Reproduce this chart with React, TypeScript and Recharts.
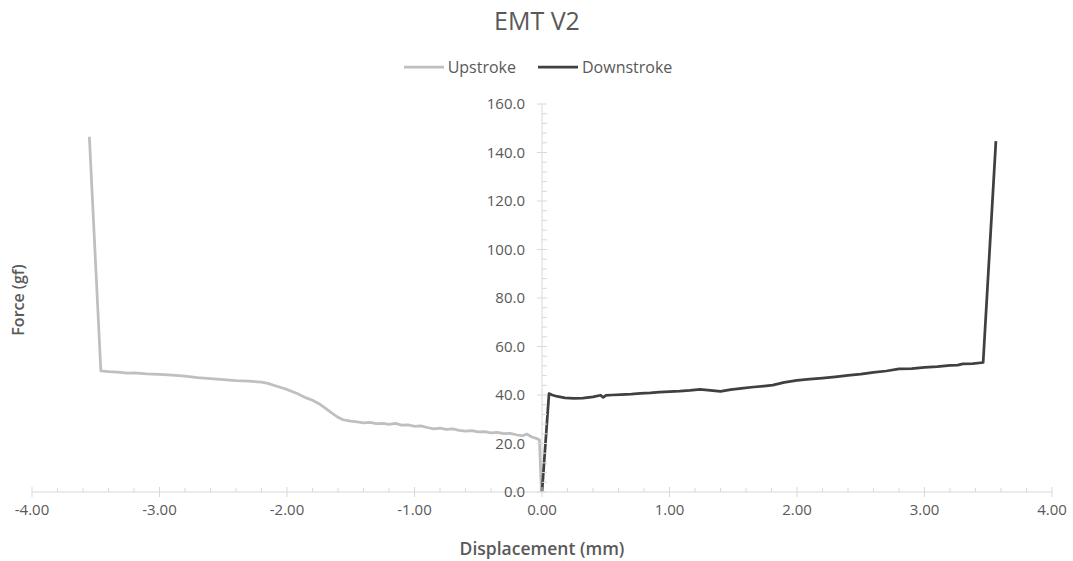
import React, { useLayoutEffect } from 'react';
import { LineChart, Line, XAxis, YAxis, Legend, ReferenceLine } from 'recharts';

// ---------- data ----------
const upX = [
  -3.55, -3.46, -3.4, -3.33, -3.25, -3.2, -3.1, -3.0, -2.9, -2.8, -2.7, -2.6, -2.5, -2.4, -2.3, -2.2,
  -2.15, -2.08, -2.0, -1.92, -1.85, -1.8, -1.75, -1.7, -1.65, -1.6, -1.56, -1.5, -1.45, -1.4, -1.35,
  -1.3, -1.25, -1.2, -1.15, -1.1, -1.05, -1.0, -0.95, -0.9, -0.85, -0.8, -0.75, -0.7, -0.65, -0.6,
  -0.55, -0.5, -0.45, -0.4, -0.35, -0.3, -0.25, -0.2, -0.15, -0.12, -0.08, -0.04, -0.02, -0.005,
];
const upY = [
  146.5, 49.9, 49.6, 49.4, 49.0, 49.1, 48.7, 48.5, 48.2, 47.8, 47.2, 46.8, 46.3, 45.9, 45.7, 45.3,
  44.8, 43.6, 42.3, 40.6, 38.8, 37.8, 36.4, 34.6, 32.6, 30.8, 29.8, 29.2, 28.9, 28.5, 28.7,
  28.2, 28.3, 27.9, 28.3, 27.6, 27.7, 27.1, 27.3, 26.6, 26.0, 26.3, 25.8, 26.0, 25.4, 25.1,
  25.3, 24.8, 24.9, 24.4, 24.6, 24.1, 24.2, 23.6, 23.2, 23.9, 22.7, 22.0, 21.5, 0.4,
];

const downX = [
  0.0, 0.055, 0.08, 0.12, 0.18, 0.25, 0.32, 0.4, 0.46, 0.48, 0.5, 0.55, 0.62, 0.7, 0.77, 0.85, 0.92,
  1.0, 1.08, 1.16, 1.24, 1.32, 1.4, 1.48, 1.58, 1.66, 1.74, 1.81, 1.9, 2.0, 2.1, 2.2, 2.3, 2.4, 2.5,
  2.6, 2.7, 2.8, 2.9, 3.0, 3.1, 3.2, 3.26, 3.3, 3.38, 3.46, 3.56,
];
const downY = [
  0.0, 40.6, 40.0, 39.4, 38.8, 38.6, 38.7, 39.2, 39.9, 39.0, 39.8, 40.0, 40.2, 40.4, 40.7, 40.9, 41.2,
  41.4, 41.6, 41.9, 42.3, 41.9, 41.5, 42.2, 42.8, 43.3, 43.7, 44.1, 45.2, 46.0, 46.5, 47.0, 47.5, 48.1, 48.6,
  49.3, 49.9, 50.8, 50.9, 51.4, 51.7, 52.2, 52.3, 52.8, 52.9, 53.4, 144.7,
];

const xMajorTicks = [-4, -3, -2, -1, 0, 1, 2, 3, 4];
const yMajorTicks = [0, 20, 40, 60, 80, 100, 120, 140, 160];
const xMinorStep = 0.2;
const yMinorStep = 4;

const seriesNames = ['Upstroke', 'Downstroke'];
const titleText = 'EMT V2';
const xTitle = 'Displacement (mm)';
const yTitle = 'Force (gf)';

// ---------- derived ----------
const upData = upX.map((x, i) => ({ x, y: upY[i] }));
const downData = downX.map((x, i) => ({ x, y: downY[i] }));

const buildTicks = (majors: number[], step: number) => {
  const out: number[] = [];
  for (let i = 0; i < majors.length - 1; i++) {
    const a = majors[i];
    const b = majors[i + 1];
    const n = Math.round((b - a) / step);
    for (let k = 0; k < n; k++) out.push(Math.round((a + k * step) * 1000) / 1000);
  }
  out.push(majors[majors.length - 1]);
  return out;
};
const xAllTicks = buildTicks(xMajorTicks, xMinorStep);
const yAllTicks = buildTicks(yMajorTicks, yMinorStep);

// ---------- layout / style ----------
const PAGE_W = 1073;
const PAGE_H = 561;
const PAD = 8;
const W = 1065;
const H = 545;
const Y_AXIS_W = 1;
const X_AXIS_H = 22;
const M = { top: 96, right: 21, left: 23, bottom: 39 };
const PLOT_W = W - M.left - Y_AXIS_W - M.right;
const HALF = PLOT_W / 2;
const FONT = "'Open Sans', 'Noto Sans', sans-serif";
const TEXT = '#595959';
const AXIS = '#d9d9d9';
const UP_COLOR = '#bfbfbf';
const DOWN_COLOR = '#404040';

const isMajor = (v: number, majors: number[]) => majors.some((m) => Math.abs(m - v) < 1e-6);

const XTick = (props: any) => {
  const { x, y, payload } = props;
  const v = payload.value as number;
  if (isMajor(v, xMajorTicks)) {
    return (
      <g>
        <line x1={x} x2={x} y1={y - 5} y2={y + 5} stroke={AXIS} strokeWidth={1} />
        <text x={x} y={y + 23} textAnchor="middle" fill={TEXT} fontSize={15} fontFamily={FONT}>
          {v.toFixed(2)}
        </text>
      </g>
    );
  }
  return <line x1={x} x2={x} y1={y - 4} y2={y} stroke={AXIS} strokeWidth={1} />;
};

const YTick = (props: any) => {
  const { x, y, payload } = props;
  const v = payload.value as number;
  const cx = x + HALF;
  if (isMajor(v, yMajorTicks)) {
    return (
      <g>
        <line x1={cx - 5} x2={cx + 5} y1={y} y2={y} stroke={AXIS} strokeWidth={1} />
        <text x={cx - 17} y={y} dy="0.36em" textAnchor="end" fill={TEXT} fontSize={15} fontFamily={FONT}>
          {v.toFixed(1)}
        </text>
      </g>
    );
  }
  return <line x1={cx} x2={cx + 5} y1={y} y2={y} stroke={AXIS} strokeWidth={1} />;
};

const LegendContent = () => {
  const items = [
    { name: seriesNames[0], color: UP_COLOR },
    { name: seriesNames[1], color: DOWN_COLOR },
  ];
  return (
    <div style={{ display: 'flex', justifyContent: 'center', alignItems: 'center', fontFamily: FONT, fontSize: 16, color: TEXT }}>
      {items.map((it, i) => (
        <div key={it.name} style={{ display: 'flex', alignItems: 'center', marginLeft: i === 0 ? 0 : 22 }}>
          <svg width={40} height={10} style={{ display: 'block' }}>
            <line x1={0} x2={40} y1={5} y2={5} stroke={it.color} strokeWidth={2.75} />
          </svg>
          <span style={{ marginLeft: 4, lineHeight: '20px' }}>{it.name}</span>
        </div>
      ))}
    </div>
  );
};

export default function App() {
  useLayoutEffect(() => {
    document.body.style.margin = '0';
  }, []);
  return (
    <div style={{ position: 'relative', width: PAGE_W, height: PAGE_H, background: '#ffffff' }}>
      <div style={{ position: 'absolute', left: PAD, top: PAD, width: W, height: H }}>
        <LineChart width={W} height={H} margin={M}>
          <XAxis
            type="number"
            dataKey="x"
            domain={[-4, 4]}
            ticks={xAllTicks}
            interval={0}
            tickSize={0}
            tickMargin={0}
            tickLine={false}
            axisLine={{ stroke: AXIS, strokeWidth: 1 }}
            tick={<XTick />}
            height={X_AXIS_H}
            allowDataOverflow
          />
          <YAxis
            type="number"
            dataKey="y"
            domain={[0, 160]}
            ticks={yAllTicks}
            interval={0}
            width={Y_AXIS_W}
            tickSize={0}
            tickMargin={0}
            tickLine={false}
            axisLine={false}
            tick={<YTick />}
            allowDataOverflow
          />
          <ReferenceLine x={0} stroke={AXIS} strokeWidth={1} ifOverflow="visible" />
          <Legend
            verticalAlign="middle"
            align="center"
            content={<LegendContent />}
            wrapperStyle={{ top: 49, left: 0, width: 1060 }}
          />
          <Line
            data={upData}
            dataKey="y"
            name={seriesNames[0]}
            type="linear"
            stroke={UP_COLOR}
            strokeWidth={2.75}
            strokeLinejoin="round"
            dot={false}
            activeDot={false}
            isAnimationActive={false}
          />
          <Line
            data={downData}
            dataKey="y"
            name={seriesNames[1]}
            type="linear"
            stroke={DOWN_COLOR}
            strokeWidth={2.75}
            strokeLinejoin="round"
            dot={false}
            activeDot={false}
            isAnimationActive={false}
          />
        </LineChart>
        <svg
          width={W}
          height={553}
          style={{ position: 'absolute', left: 0, top: 0, pointerEvents: 'none', overflow: 'visible' }}
        >
          <text x={529} y={22} textAnchor="middle" fill={TEXT} fontSize={25} fontFamily={FONT}>
            {titleText}
          </text>
          <text
            x={534}
            y={541}
            dy="0.36em"
            textAnchor="middle"
            fill={TEXT}
            fontSize={17.5}
            fontWeight={600}
            fontFamily={FONT}
          >
            {xTitle}
          </text>
          <text
            x={10}
            y={292}
            dy="0.36em"
            textAnchor="middle"
            transform="rotate(-90 10 292)"
            fill={TEXT}
            fontSize={16}
            fontWeight={600}
            fontFamily={FONT}
          >
            {yTitle}
          </text>
        </svg>
      </div>
    </div>
  );
}
